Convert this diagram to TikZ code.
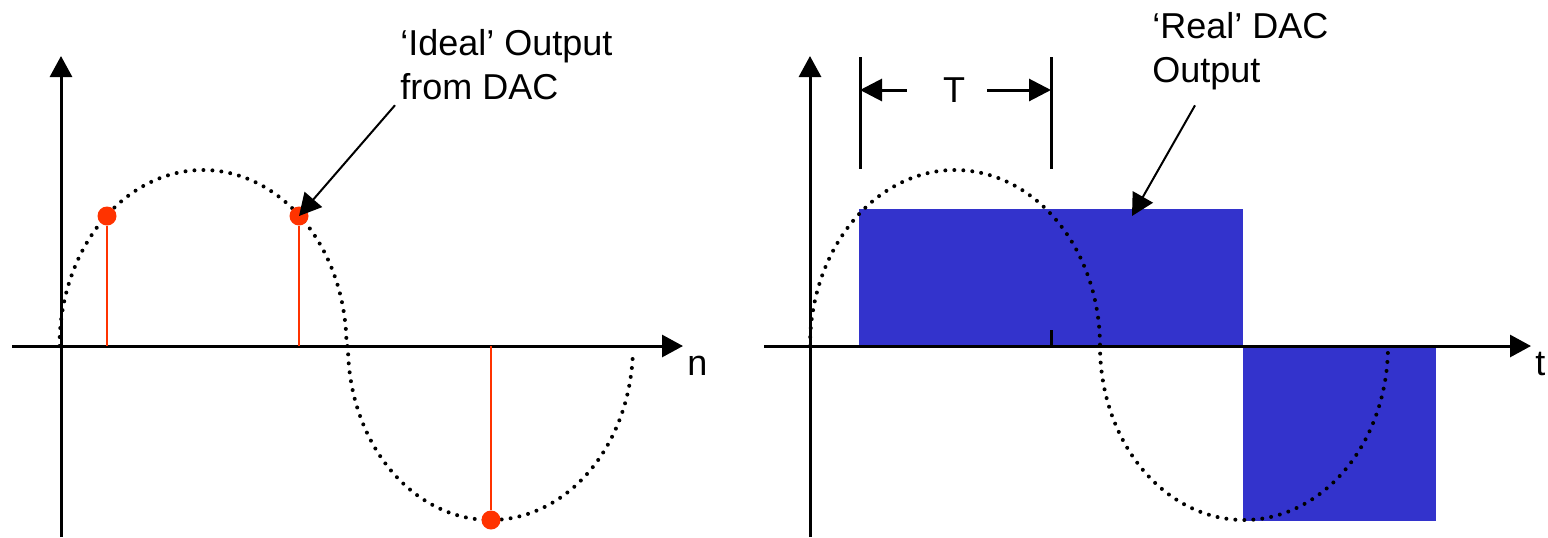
\documentclass[tikz,border=0pt]{standalone}
\usepackage{fontspec}
\setmainfont{Liberation Sans}
\usetikzlibrary{arrows.meta, positioning, calc}
\definecolor{dotred}{RGB}{255, 51, 0}
\definecolor{dacblue}{RGB}{51, 51, 204}

\begin{document}
\begin{tikzpicture}[x=0.5pt, y=-0.5pt,
    axis/.style={line width=1.5pt, -{Triangle[length=10.5pt, width=11pt]}},
    sinedots/.style={line width=2pt, line cap=round, dash pattern=on 0pt off 4.5pt},
    sample/.style={circle, fill=dotred, inner sep=0pt, minimum size=9.5pt},
    stem/.style={draw=dotred, line width=1.1pt},
    callout/.style={line width=1pt, -{Triangle[length=11pt, width=11.5pt]}},
    dimline/.style={line width=1.5pt},
    dimarrow/.style={line width=1.5pt, -{Triangle[length=11pt, width=11pt]}},
    lbl/.style={font=\fontsize{18}{22}\selectfont, inner sep=0pt, align=left}]
    \useasboundingbox (0,0) rectangle (1548,537);

    % left: ideal output
    \coordinate (o1) at (61,346);
    \coordinate (xend1) at (683,346);
    \draw[axis] (12,346) -- (xend1);
    \draw[axis] (61,537) -- (61,56);
    \node[lbl, anchor=base west] (nlabel) at (687,375) {n};
    \draw[sinedots] plot[domain=180:0, samples=90, smooth] ({203+143.5*cos(\x)},{346-176*sin(\x)})
        -- plot[domain=180:358, samples=90, smooth] ({490.5+142.5*cos(\x)},{346-174*sin(\x)});
    \node[sample] (s1) at (107,216) {};
    \node[sample] (s2) at (299,216) {};
    \node[sample] (s3) at (491,520) {};
    \draw[stem] (s1) -- (s1 |- o1);
    \draw[stem] (s2) -- (s2 |- o1);
    \draw[stem] (s3) -- (s3 |- o1);
    \node[lbl, anchor=north west] (ideal) at (400,29) {‘Ideal’ Output\\from DAC};
    \draw[callout] ($(ideal.south west)+(-5,5)$) -- (s2.center);

    % right: real output
    \fill[dacblue] (859,209) rectangle (1243,346);
    \fill[dacblue] (1243,346) rectangle (1436,521);
    \coordinate (o2) at (810,346);
    \draw[axis] (764,346) -- (1531,346);
    \draw[axis] (810,537) -- (810,56);
    \node[lbl, anchor=base west] (tlabel) at (1535,375) {t};
    \draw[line width=1.5pt] (1051,330) -- (1051,346);
    \draw[sinedots] plot[domain=180:0, samples=90, smooth] ({955+145*cos(\x)},{346-176*sin(\x)})
        -- plot[domain=180:358, samples=90, smooth] ({1244+144*cos(\x)},{346-174*sin(\x)});
    \coordinate (ext1top) at (860,57);
    \coordinate (ext2top) at (1051,57);
    \draw[dimline] (ext1top) -- (860,169);
    \draw[dimline] (ext2top) -- (1051,169);
    \node[lbl] (period) at (954,90) {T};
    \draw[dimarrow] ([xshift=-18pt]period.west) -- (period.west -| ext1top);
    \draw[dimarrow] ([xshift=11pt]period.east) -- (period.east -| ext2top);
    \node[lbl, anchor=north west] (real) at (1152,12) {‘Real’ DAC\\Output};
    \coordinate (realtip) at (1132,216);
    \draw[callout] ($(real.south west)+(43,15)$) -- (realtip);
\end{tikzpicture}
\end{document}
